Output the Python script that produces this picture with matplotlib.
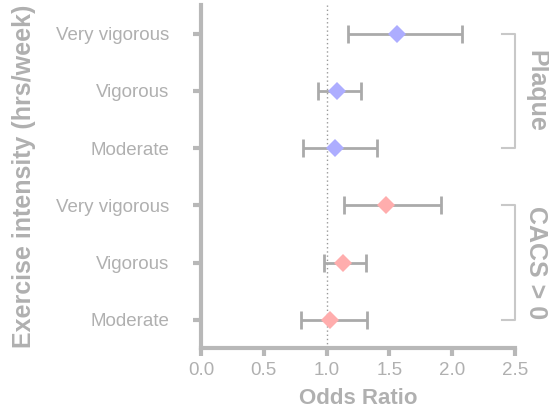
import matplotlib
matplotlib.use('Agg')
import matplotlib.pyplot as plt
import numpy as np

# rows listed bottom to top
labels = ['Moderate', 'Vigorous', 'Very vigorous', 'Moderate', 'Vigorous', 'Very vigorous']
odds = [1.03, 1.13, 1.47, 1.07, 1.08, 1.56]
ci_low = [0.80, 0.98, 1.14, 0.81, 0.93, 1.17]
ci_high = [1.32, 1.31, 1.91, 1.40, 1.27, 2.08]
groups = ['CACS > 0', 'CACS > 0', 'CACS > 0', 'Plaque', 'Plaque', 'Plaque']
group_colors = {'CACS > 0': '#ffadad', 'Plaque': '#adadff'}

grey = '#b8b8b8'
text_grey = '#b0b0b0'
plt.rcParams['font.family'] = ['Liberation Sans', 'DejaVu Sans']

fig = plt.figure(figsize=(5.49, 4.09), dpi=100)
ax = fig.add_axes([201 / 549, 1 - 348 / 409, 314 / 549, 343 / 409])

y = np.arange(len(labels))
odds = np.array(odds)
err = [odds - np.array(ci_low), np.array(ci_high) - odds]

ax.axvline(1.0, color='#999999', linestyle=(0, (1, 2)), linewidth=1, zorder=1)
ax.errorbar(odds, y, xerr=err, fmt='none', ecolor='#aaaaaa', elinewidth=2,
            capsize=6.5, capthick=2, zorder=2)
for xi, yi, g in zip(odds, y, groups):
    ax.plot(xi, yi, marker='D', markersize=9.5, color=group_colors[g],
            markeredgewidth=0, zorder=3)

ax.set_xlim(0, 2.5)
ax.set_ylim(-0.49, 5.5)
ax.set_xticks([0, 0.5, 1.0, 1.5, 2.0, 2.5])
ax.set_xticklabels(['0.0', '0.5', '1.0', '1.5', '2.0', '2.5'])
ax.set_yticks(y)
ax.set_yticklabels(labels)

for s in ['top', 'right']:
    ax.spines[s].set_visible(False)
for s in ['left', 'bottom']:
    ax.spines[s].set_color(grey)
    ax.spines[s].set_linewidth(3)
ax.tick_params(axis='both', colors=grey, width=3, length=6, labelsize=13.5,
               labelcolor=text_grey)
ax.tick_params(axis='x', pad=4)
ax.tick_params(axis='y', pad=17)

ax.set_xlabel('Odds Ratio', fontsize=16, fontweight='bold', color=text_grey)
ax.xaxis.set_label_coords(0.5, -0.117)
ax.set_ylabel('Exercise intensity (hrs/week)', fontsize=18, fontweight='bold',
              color=text_grey)
ax.yaxis.set_label_coords(-0.527, 0.5)

# group brackets on the right
for name, lo, hi in [('CACS > 0', 0, 2), ('Plaque', 3, 5)]:
    bx0, bx1 = 2.4, 2.5
    ax.plot([bx0, bx1, bx1, bx0], [hi, hi, lo, lo], color='#c8c8c8',
            linewidth=1.5, clip_on=False)
    ax.text(2.67, (lo + hi) / 2, name, rotation=-90, ha='center', va='center',
            fontsize=18, fontweight='bold', color=text_grey, clip_on=False)

fig.savefig('out.png', dpi=100)
